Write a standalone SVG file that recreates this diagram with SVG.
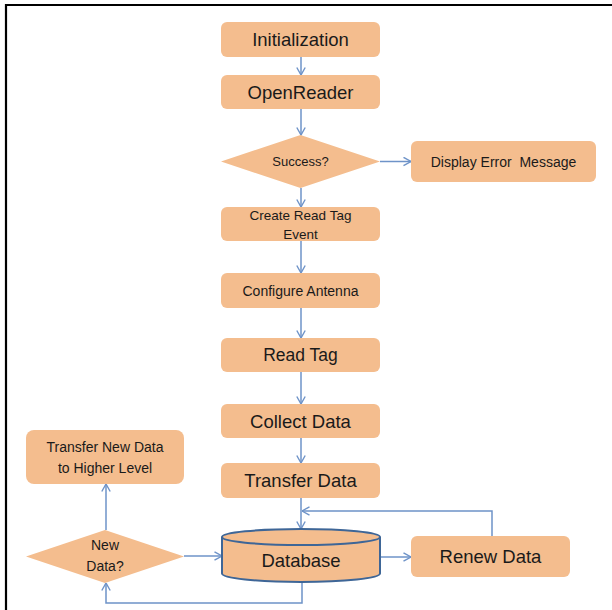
<svg xmlns="http://www.w3.org/2000/svg" width="612" height="610" viewBox="0 0 612 610">
<style>
.box{fill:#F4BD8E;}
.t{font-family:"Liberation Sans",Arial,sans-serif;fill:#1a1a1a;text-anchor:middle;white-space:pre;}
.big{font-size:18.5px;}
.sm{font-size:14px;}
.con{fill:none;stroke:#6E93C8;stroke-width:1.5;}
.db{fill:#F4BD8E;stroke:#3E6697;stroke-width:2;}
</style>
<defs>
<marker id="arr" markerUnits="userSpaceOnUse" viewBox="0 0 10 10" refX="9.5" refY="5" markerWidth="10" markerHeight="10" orient="auto">
<path d="M2,0.8 L9.5,5 L2,9.2" fill="none" stroke="#6E93C8" stroke-width="1.4"/>
</marker>
</defs>
<rect x="0" y="0" width="612" height="610" fill="#FFFFFF"/>
<path d="M6,610 V5 H612" fill="none" stroke="#000" stroke-width="2.2"/>

<g id="connectors">
<path class="con" marker-end="url(#arr)" d="M301,57 V75"/>
<path class="con" marker-end="url(#arr)" d="M301,109 V135"/>
<path class="con" marker-end="url(#arr)" d="M380,161.5 H411"/>
<path class="con" marker-end="url(#arr)" d="M301,188 V207"/>
<path class="con" marker-end="url(#arr)" d="M301,241 V273"/>
<path class="con" marker-end="url(#arr)" d="M301,308 V338"/>
<path class="con" marker-end="url(#arr)" d="M301,372 V404"/>
<path class="con" marker-end="url(#arr)" d="M301,438 V463"/>
<path class="con" marker-end="url(#arr)" d="M301,498 V529"/>
<path class="con" marker-end="url(#arr)" d="M492,536 V511 H302"/>
<path class="con" marker-end="url(#arr)" d="M380,557 H411"/>
<path class="con" marker-end="url(#arr)" d="M302,582 V603 H106 V583"/>
<path class="con" marker-end="url(#arr)" d="M184,556 H222"/>
<path class="con" marker-end="url(#arr)" d="M106,530 V484"/>
</g>

<g id="initialization">
<rect class="box" x="221" y="22" width="159" height="35" rx="6"/>
<text class="t big" x="300.5" y="46">Initialization</text>
</g>
<g id="openreader">
<rect class="box" x="221" y="75" width="159" height="34" rx="6"/>
<text class="t big" x="300.5" y="98.5">OpenReader</text>
</g>
<g id="success">
<polygon class="box" points="300.5,135 380,161.5 300.5,188 221,161.5"/>
<text class="t" style="font-size:13px" x="300.5" y="166">Success?</text>
</g>
<g id="display-error">
<rect class="box" x="411" y="141" width="185" height="41" rx="6"/>
<text class="t sm" x="503.5" y="166.5">Display Error  Message</text>
</g>
<g id="create-read-tag">
<rect class="box" x="221" y="207" width="159" height="34" rx="6"/>
<text class="t" style="font-size:13.5px" x="300.5" y="220">Create Read Tag</text>
<text class="t" style="font-size:13.5px" x="300.5" y="239">Event</text>
</g>
<g id="configure-antenna">
<rect class="box" x="221" y="273" width="159" height="35" rx="6"/>
<text class="t sm" x="300.5" y="295.5">Configure Antenna</text>
</g>
<g id="read-tag">
<rect class="box" x="221" y="338" width="159" height="34" rx="6"/>
<text class="t" style="font-size:17.5px" x="300.5" y="361">Read Tag</text>
</g>
<g id="collect-data">
<rect class="box" x="221" y="404" width="159" height="34" rx="6"/>
<text class="t big" x="300.5" y="427.5">Collect Data</text>
</g>
<g id="transfer-data">
<rect class="box" x="221" y="463" width="159" height="35" rx="6"/>
<text class="t big" x="300.5" y="487">Transfer Data</text>
</g>
<g id="database">
<path class="db" d="M222,537 V573.5 A79,8.5 0 0 0 380,573.5 V537"/>
<ellipse class="db" cx="301" cy="537" rx="79" ry="8"/>
<text class="t big" x="301" y="567">Database</text>
</g>
<g id="renew-data">
<rect class="box" x="411" y="536" width="159" height="41" rx="6"/>
<text class="t big" x="490.5" y="563">Renew Data</text>
</g>
<g id="transfer-new-data">
<rect class="box" x="26" y="430" width="158" height="54" rx="8"/>
<text class="t sm" x="105" y="452">Transfer New Data</text>
<text class="t sm" x="105" y="473">to Higher Level</text>
</g>
<g id="new-data">
<polygon class="box" points="105,530 184,556.5 105,583 26,556.5"/>
<text class="t sm" x="105" y="550">New</text>
<text class="t sm" x="105" y="571">Data?</text>
</g>
</svg>
